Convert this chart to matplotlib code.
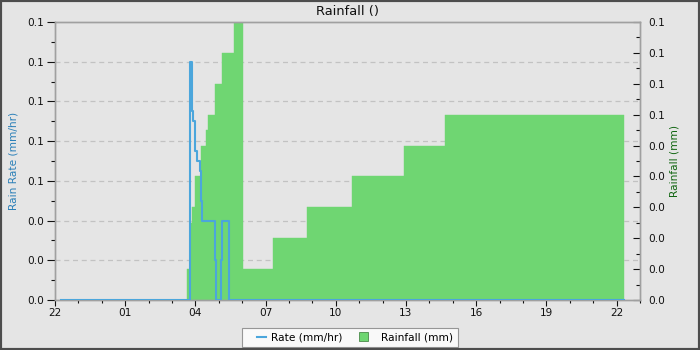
import matplotlib
matplotlib.use("Agg")
import matplotlib.pyplot as plt
import matplotlib.dates as mdates
import matplotlib.transforms as mtransforms
from matplotlib.patches import Rectangle
from matplotlib.lines import Line2D
from matplotlib.legend_handler import HandlerBase
import pandas as pd

# ---- data ----
rate_times = ["2024-01-01 22:15", "2024-01-02 03:47", "2024-01-02 03:52", "2024-01-02 03:55",
              "2024-01-02 03:59", "2024-01-02 04:04", "2024-01-02 04:12", "2024-01-02 04:15",
              "2024-01-02 04:16", "2024-01-02 04:51", "2024-01-02 04:52", "2024-01-02 05:06",
              "2024-01-02 05:09", "2024-01-02 05:25", "2024-01-02 22:20"]
rate_values = [0.0, 0.12, 0.095, 0.09, 0.075, 0.07, 0.065, 0.05, 0.04, 0.02, 0.0, 0.02, 0.04, 0.0, 0.0]

rain_start = ["2024-01-02 03:39", "2024-01-02 03:45", "2024-01-02 03:52", "2024-01-02 04:00",
              "2024-01-02 04:15", "2024-01-02 04:28", "2024-01-02 04:32", "2024-01-02 04:49",
              "2024-01-02 05:07", "2024-01-02 05:40", "2024-01-02 06:03", "2024-01-02 07:19",
              "2024-01-02 08:45", "2024-01-02 10:41", "2024-01-02 12:56", "2024-01-02 14:40"]
rain_end = rain_start[1:] + ["2024-01-02 22:20"]
rain_values = [0.010, 0.025, 0.030, 0.040, 0.050, 0.055, 0.060, 0.070, 0.080, 0.090,
               0.010, 0.020, 0.030, 0.040, 0.050, 0.060]

x_range = ["2024-01-01 22:00", "2024-01-02 23:00"]
rate_ticks = [0.0, 0.02, 0.04, 0.06, 0.08, 0.10, 0.12, 0.14]
rate_tick_labels = ["0.0", "0.0", "0.0", "0.1", "0.1", "0.1", "0.1", "0.1"]
rain_ticks = [0.0, 0.01, 0.02, 0.03, 0.04, 0.05, 0.06, 0.07, 0.08, 0.09]
rain_tick_labels = ["0.0", "0.0", "0.0", "0.0", "0.0", "0.0", "0.1", "0.1", "0.1", "0.1"]

title = "Rainfall ()"
rate_label = "Rain Rate (mm/hr)"
rain_label = "Rainfall (mm)"
rate_legend = "Rate (mm/hr)"
rain_legend = "Rainfall (mm)"

# ---- style ----
BG = "#e5e5e5"
GREEN = "#6fd672"
BLUE = "#4ba6dc"
SPINE = "#a0a0a0"
GRID = "#c2c2c2"
FS = 7.6

plt.rcParams["font.family"] = ["DejaVu Sans"]

fig = plt.figure(figsize=(7, 3.5), dpi=100, facecolor=BG)
ax = fig.add_axes([55 / 700, 50 / 350, 585 / 700, 278 / 350])
ax2 = ax.twinx()

# layering: ax2 (bars, background) below ax (rate line)
ax.set_zorder(2)
ax2.set_zorder(1)
ax.patch.set_visible(False)
ax2.patch.set_facecolor(BG)

rt = mdates.date2num(pd.to_datetime(rate_times))
rs = mdates.date2num(pd.to_datetime(rain_start))
re_ = mdates.date2num(pd.to_datetime(rain_end))
xr = mdates.date2num(pd.to_datetime(x_range))

# grid on ax2 (beneath bars)
ax2.set_axisbelow(True)
ax2.xaxis.grid(True, which="major", color=GRID, linestyle=(0, (4, 3)), linewidth=0.9)
blend = mtransforms.blended_transform_factory(ax2.transAxes, ax.transData)
ax2.hlines(rate_ticks[1:-1], 0, 1, transform=blend, colors=GRID,
           linestyles=[(0, (4, 3))], linewidth=0.9, zorder=0)

ax2.bar(rs, rain_values, width=re_ - rs, align="edge", color=GREEN, edgecolor=GREEN,
        linewidth=0.3, zorder=2)

ax.plot(rt, rate_values, drawstyle="steps-post", color=BLUE, linewidth=1.5, zorder=3)

ax.set_xlim(xr[0], xr[1])
ax.set_ylim(0, rate_ticks[-1])
ax2.set_ylim(0, rain_ticks[-1])

ax.xaxis.set_major_locator(mdates.HourLocator(byhour=[1, 4, 7, 10, 13, 16, 19, 22]))
ax.xaxis.set_minor_locator(mdates.HourLocator())
ax.xaxis.set_major_formatter(mdates.DateFormatter("%H"))

ax.set_yticks(rate_ticks)
ax.set_yticklabels(rate_tick_labels)
ax.set_yticks([(a + b) / 2 for a, b in zip(rate_ticks[:-1], rate_ticks[1:])], minor=True)
ax2.set_yticks(rain_ticks)
ax2.set_yticklabels(rain_tick_labels)
ax2.set_yticks([(a + b) / 2 for a, b in zip(rain_ticks[:-1], rain_ticks[1:])], minor=True)

ax.tick_params(axis="y", which="major", direction="out", length=6, width=0.8,
               labelsize=FS, colors="#111111", pad=2)
ax.tick_params(axis="y", which="minor", direction="out", length=3, width=0.8, colors="#111111")
ax.tick_params(axis="x", which="major", direction="out", length=4, width=0.8,
               labelsize=FS, colors="#111111", pad=2)
ax.tick_params(axis="x", which="minor", direction="out", length=2.5, width=0.8, colors="#111111")
ax2.tick_params(axis="y", which="major", direction="in", length=5, width=0.8,
                labelsize=FS, colors="#111111", pad=6)
ax2.tick_params(axis="y", which="minor", direction="in", length=3, width=0.8, colors="#111111")

for a in (ax, ax2):
    for s in a.spines.values():
        s.set_color(SPINE)
        s.set_linewidth(1.0)

ax.set_ylabel(rate_label, color="#2a7fb8", fontsize=FS, labelpad=6)
ax2.set_ylabel(rain_label, color="#116611", fontsize=FS, labelpad=3)
ax.set_title(title, fontsize=9.4, color="#111111", pad=5)


# legend handlers
class RightLineHandler(HandlerBase):
    def create_artists(self, legend, orig_handle, xdescent, ydescent, width, height,
                       fontsize, trans):
        x1 = -xdescent + width - 1
        y = -ydescent + height / 2
        ln = Line2D([x1 - 7, x1], [y, y], color=orig_handle.get_color(),
                    linewidth=orig_handle.get_linewidth())
        ln.set_transform(trans)
        return [ln]


class LeftSquareHandler(HandlerBase):
    def create_artists(self, legend, orig_handle, xdescent, ydescent, width, height,
                       fontsize, trans):
        s = 6.5
        x0 = -xdescent + 1.5
        y0 = -ydescent + height / 2 - s / 2
        r = Rectangle((x0, y0), s, s, facecolor=orig_handle.get_facecolor(),
                      edgecolor=orig_handle.get_edgecolor(),
                      linewidth=orig_handle.get_linewidth())
        r.set_transform(trans)
        return [r]


h1 = Line2D([], [], color=BLUE, linewidth=1.5)
h2 = Rectangle((0, 0), 1, 1, facecolor=GREEN, edgecolor="#4a8a4a", linewidth=0.6)
leg = fig.legend([h1, h2], [rate_legend, rain_legend], loc="lower center",
                 bbox_to_anchor=(350 / 700, 3 / 350), borderaxespad=0, ncol=2, fontsize=FS,
                 frameon=True, fancybox=False, handlelength=2.0, handleheight=0.7,
                 columnspacing=1.4, handletextpad=0.3, borderpad=0.45,
                 handler_map={h1: RightLineHandler(), h2: LeftSquareHandler()})
leg.get_frame().set_edgecolor("#808080")
leg.get_frame().set_facecolor("white")
leg.get_frame().set_linewidth(0.8)

# figure border
fig.patches.append(Rectangle((0, 0), 1, 1, transform=fig.transFigure, fill=False,
                             edgecolor="#4d4d4d", linewidth=3, zorder=10))

fig.savefig("out.png", dpi=100, facecolor=BG)
